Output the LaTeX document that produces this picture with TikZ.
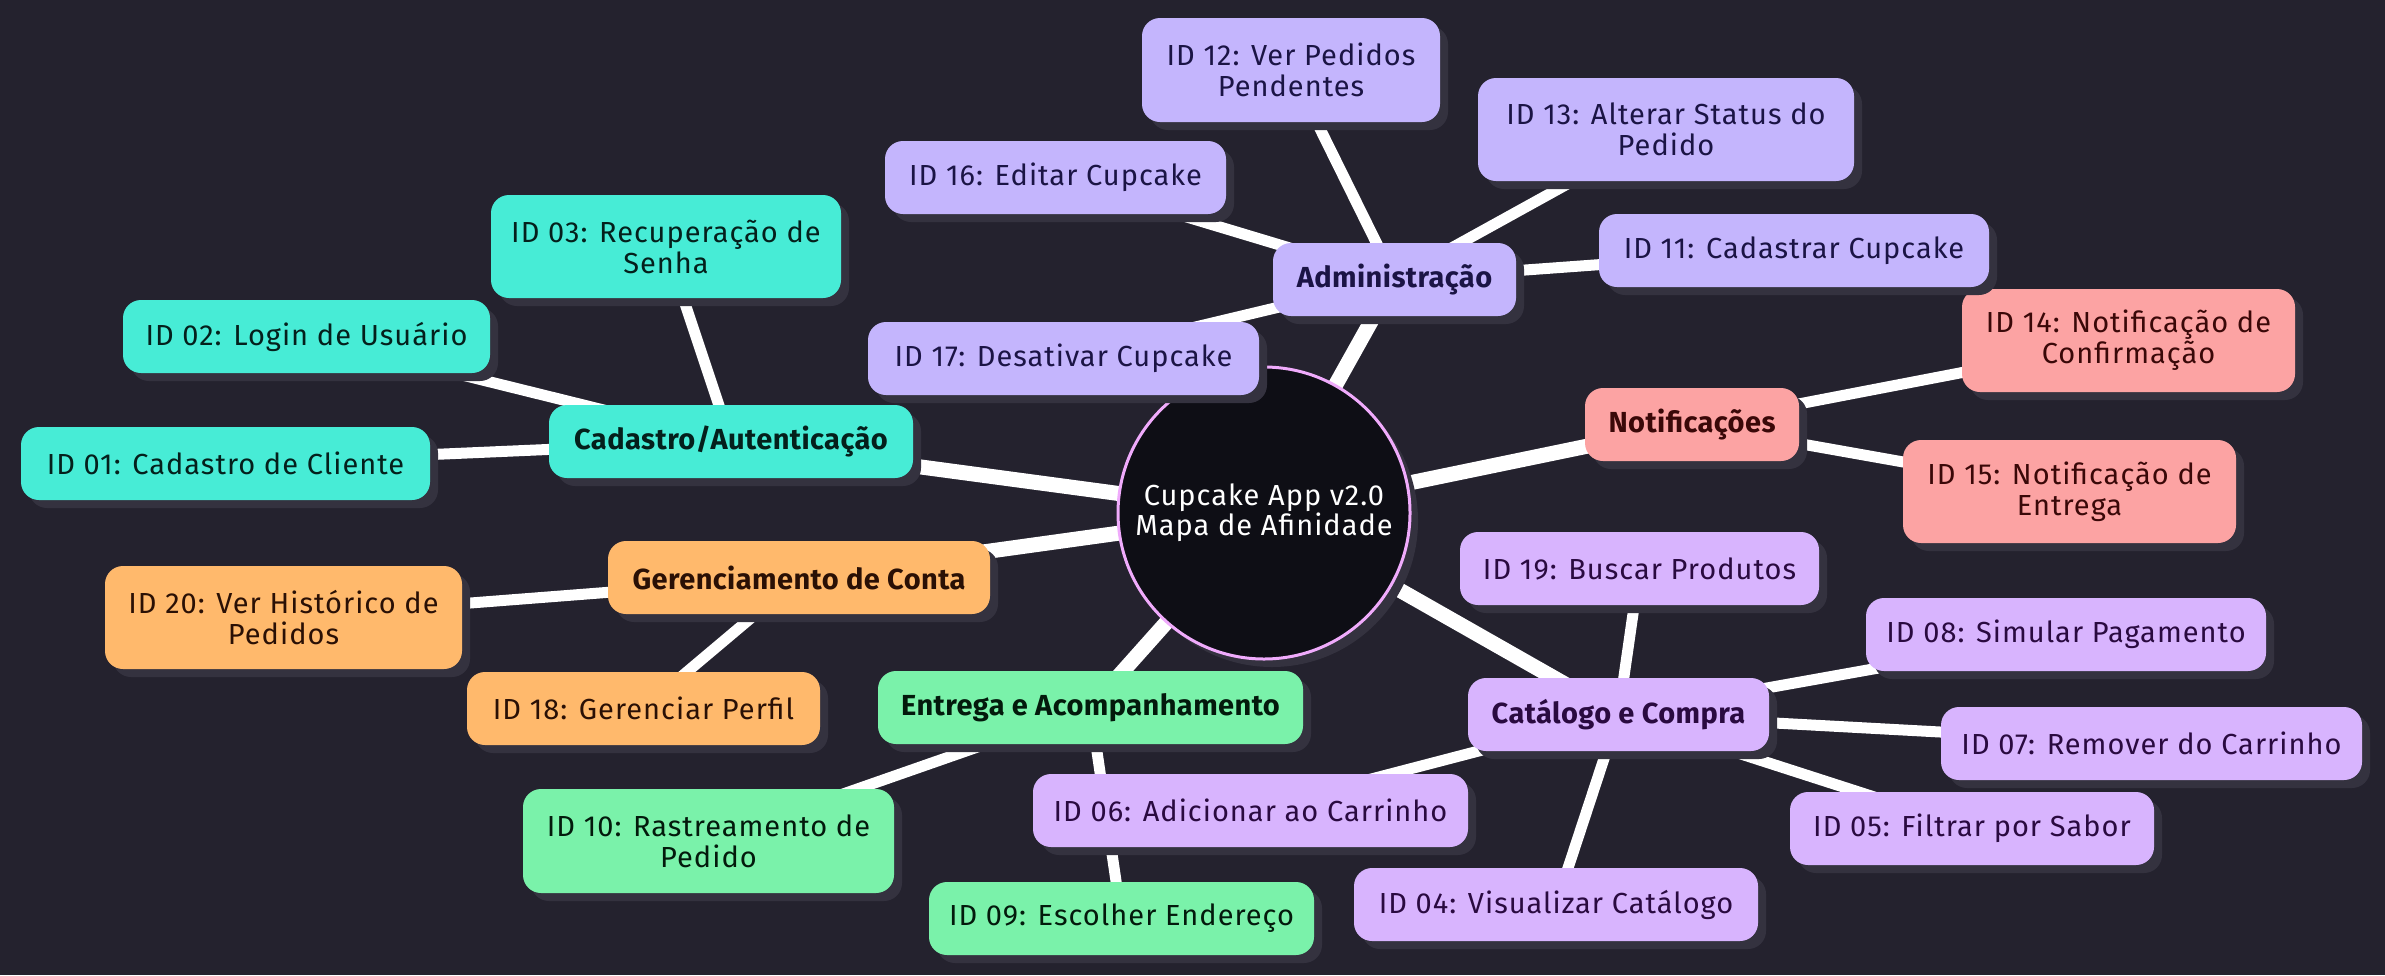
\documentclass[tikz,border=0pt]{standalone}
\usepackage{fontspec}
\setmainfont{Fira Sans}[LetterSpace=3.5, BoldFeatures={LetterSpace=1.5}]
\usetikzlibrary{shadows}
\definecolor{bgc}{HTML}{24222E}
\definecolor{shadowc}{HTML}{34323F}
\definecolor{tealc}{HTML}{47ECD6}
\definecolor{orangec}{HTML}{FFB96C}
\definecolor{greenc}{HTML}{7AF2AA}
\definecolor{adminc}{HTML}{C4B5FD}
\definecolor{catc}{HTML}{D8B4FE}
\definecolor{notc}{HTML}{FCA3A3}
\definecolor{centerc}{HTML}{0E0E15}
\definecolor{ringc}{HTML}{F0ABFC}
\definecolor{tealt}{HTML}{04201C}
\definecolor{oranget}{HTML}{2A1005}
\definecolor{greent}{HTML}{031A0C}
\definecolor{admint}{HTML}{1B1445}
\definecolor{catt}{HTML}{2A0A40}
\definecolor{nott}{HTML}{3A0808}
\pgfdeclarelayer{bglayer}
\pgfdeclarelayer{edgelayer}
\pgfsetlayers{bglayer,edgelayer,main}
\tikzset{
  box/.style={rounded corners=9pt, inner sep=0pt, align=center,
    font=\fontsize{14.5}{15.5}\selectfont,
    drop shadow={shadow xshift=4pt, shadow yshift=-4pt, fill=shadowc, opacity=1}},
  catbox/.style={box, font=\fontsize{14.5}{15.5}\selectfont\bfseries},
  teal/.style={fill=tealc, text=tealt},
  orng/.style={fill=orangec, text=oranget},
  grn/.style={fill=greenc, text=greent},
  adm/.style={fill=adminc, text=admint},
  ctl/.style={fill=catc, text=catt},
  ntf/.style={fill=notc, text=nott},
  thickedge/.style={draw=white, line width=7.5pt},
  thinedge/.style={draw=white, line width=5.5pt},
}
\begin{document}
\begin{tikzpicture}[x=0.5pt,y=-0.5pt]
\begin{pgfonlayer}{bglayer}
\fill[bgc] (0,0) rectangle (2385,975);
\end{pgfonlayer}
\useasboundingbox (0,0) rectangle (2385,975);

% center
\node[circle, fill=centerc, draw=ringc, line width=1.5pt, minimum size=146pt, inner sep=0pt, align=center, text=white,
  font=\fontsize{14.5}{15}\selectfont,
  drop shadow={shadow xshift=4pt, shadow yshift=-4pt, fill=shadowc, opacity=1}] (c) at (1264,513) {Cupcake App v2.0\\Mapa de Afinidade};

% Cadastro
\node[catbox, teal, minimum width=182pt, minimum height=36.5pt] (cad) at (731,441.5) {Cadastro/Autenticação};
\node[box, teal, minimum width=175pt, minimum height=51.5pt] (id03) at (666,246.5) {ID 03: Recuperação de\\Senha};
\node[box, teal, minimum width=183.5pt, minimum height=36.5pt] (id02) at (306.5,336.5) {ID 02: Login de Usuário};
\node[box, teal, minimum width=204.5pt, minimum height=36.5pt] (id01) at (225.5,463.5) {ID 01: Cadastro de Cliente};

% Gerenciamento
\node[catbox, orng, minimum width=191pt, minimum height=36.5pt] (ger) at (799,577.5) {Gerenciamento de Conta};
\node[box, orng, minimum width=178.5pt, minimum height=51.5pt] (id20) at (283.5,617.5) {ID 20: Ver Histórico de\\Pedidos};
\node[box, orng, minimum width=176.5pt, minimum height=36.5pt] (id18) at (643.5,708.5) {ID 18: Gerenciar Perfil};

% Entrega
\node[catbox, grn, minimum width=212.5pt, minimum height=36.5pt] (ent) at (1090.5,707.5) {Entrega e Acompanhamento};
\node[box, grn, minimum width=185.5pt, minimum height=52pt] (id10) at (708.5,841) {ID 10: Rastreamento de\\Pedido};
\node[box, grn, minimum width=192.5pt, minimum height=36.5pt] (id09) at (1121.5,918.5) {ID 09: Escolher Endereço};

% Catalogo
\node[catbox, ctl, minimum width=150.5pt, minimum height=36.5pt] (cat) at (1618.5,714.5) {Catálogo e Compra};
\node[box, ctl, minimum width=179.5pt, minimum height=36.5pt] (id19) at (1639.5,568.5) {ID 19: Buscar Produtos};
\node[box, ctl, minimum width=200pt, minimum height=36.5pt] (id08) at (2066,634.5) {ID 08: Simular Pagamento};
\node[box, ctl, minimum width=210.5pt, minimum height=36.5pt] (id07) at (2151.5,743.5) {ID 07: Remover do Carrinho};
\node[box, ctl, minimum width=182pt, minimum height=36.5pt] (id05) at (1972,828.5) {ID 05: Filtrar por Sabor};
\node[box, ctl, minimum width=217.5pt, minimum height=36.5pt] (id06) at (1250.5,810.5) {ID 06: Adicionar ao Carrinho};
\node[box, ctl, minimum width=202pt, minimum height=36.5pt] (id04) at (1556,904.5) {ID 04: Visualizar Catálogo};

% Notificacoes
\node[catbox, ntf, minimum width=107pt, minimum height=36.5pt] (not) at (1692,424.5) {Notificações};
\node[box, ntf, minimum width=166.5pt, minimum height=51.5pt] (id14) at (2128.5,340.5) {ID 14: Notificação de\\Confirmação};
\node[box, ntf, minimum width=166.5pt, minimum height=51.5pt] (id15) at (2069.5,491.5) {ID 15: Notificação de\\Entrega};

% Administracao
\node[catbox, adm, minimum width=121.5pt, minimum height=36.5pt] (adm) at (1394.5,279.5) {Administração};
\node[box, adm, minimum width=149pt, minimum height=52pt] (id12) at (1291,70) {ID 12: Ver Pedidos\\Pendentes};
\node[box, adm, minimum width=188pt, minimum height=51.5pt] (id13) at (1666,129.5) {ID 13: Alterar Status do\\Pedido};
\node[box, adm, minimum width=170.5pt, minimum height=36.5pt] (id16) at (1055.5,177.5) {ID 16: Editar Cupcake};
\node[box, adm, minimum width=195pt, minimum height=36.5pt] (id11) at (1794,250.5) {ID 11: Cadastrar Cupcake};
\node[box, adm, minimum width=195.5pt, minimum height=36.5pt] (id17) at (1063.5,358.5) {ID 17: Desativar Cupcake};

\begin{pgfonlayer}{edgelayer}
\foreach \n in {cad,ger,ent,cat,not,adm}
  \draw[thickedge] (c.center) -- (\n.center);
\foreach \n in {id03,id02,id01} \draw[thinedge] (cad.center) -- (\n.center);
\foreach \n in {id20,id18} \draw[thinedge] (ger.center) -- (\n.center);
\foreach \n in {id10,id09} \draw[thinedge] (ent.center) -- (\n.center);
\foreach \n in {id19,id08,id07,id05,id06,id04} \draw[thinedge] (cat.center) -- (\n.center);
\foreach \n in {id14,id15} \draw[thinedge] (not.center) -- (\n.center);
\foreach \n in {id12,id13,id16,id11,id17} \draw[thinedge] (adm.center) -- (\n.center);
\end{pgfonlayer}
\end{tikzpicture}
\end{document}
